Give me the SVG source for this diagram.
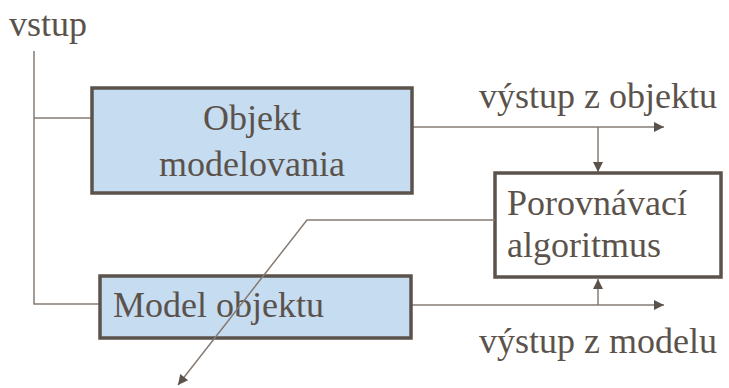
<svg xmlns="http://www.w3.org/2000/svg" width="729" height="388" viewBox="0 0 729 388">
<defs>
<style>
.t{font-family:'Liberation Serif','DejaVu Serif',serif;font-size:36px;fill:#5b524b}
.box{stroke:#5b524b;stroke-width:3.5}
.ln{stroke:#857b74;stroke-width:1.5;fill:none}
</style>
<marker id="ah2" viewBox="0 0 10 10" refX="10" refY="5" markerWidth="12" markerHeight="10" markerUnits="userSpaceOnUse" orient="auto">
<path d="M0,0 L10,5 L0,10 z" fill="#5b524b"/>
</marker>
</defs>
<rect width="729" height="388" fill="#fff"/>
<g id="connectors">
<path class="ln" d="M34,51 V304 H100"/>
<path class="ln" d="M34,118 H92"/>
<path class="ln" d="M412,127 H664" marker-end="url(#ah2)"/>
<path class="ln" d="M598,127 V172" marker-end="url(#ah2)"/>
<path class="ln" d="M411,305 H664" marker-end="url(#ah2)"/>
<path class="ln" d="M598,305 V279" marker-end="url(#ah2)"/>
</g>
<g id="vstup"><text class="t" x="9" y="36" font-size="37">vstup</text></g>
<g id="objekt">
<rect class="box" x="92" y="88" width="320" height="105" fill="#c6dcf0"/>
<text class="t" x="252" y="130" text-anchor="middle">Objekt</text>
<text class="t" x="252" y="176" text-anchor="middle">modelovania</text>
</g>
<g id="porovnavaci">
<rect class="box" x="495" y="173" width="226" height="104" fill="#fff"/>
<text class="t" x="507" y="215">Porovnávací</text>
<text class="t" x="507" y="257">algoritmus</text>
</g>
<g id="model">
<rect class="box" x="100" y="276" width="311" height="62" fill="#c6dcf0"/>
<text class="t" x="113" y="317">Model objektu</text>
</g>
<g id="connectors-over">
<path class="ln" d="M495,220 H307 L178,385" marker-end="url(#ah2)"/>
</g>
<g id="labels">
<text class="t" x="479" y="108">výstup z objektu</text>
<text class="t" x="479" y="353">výstup z modelu</text>
</g>
</svg>
